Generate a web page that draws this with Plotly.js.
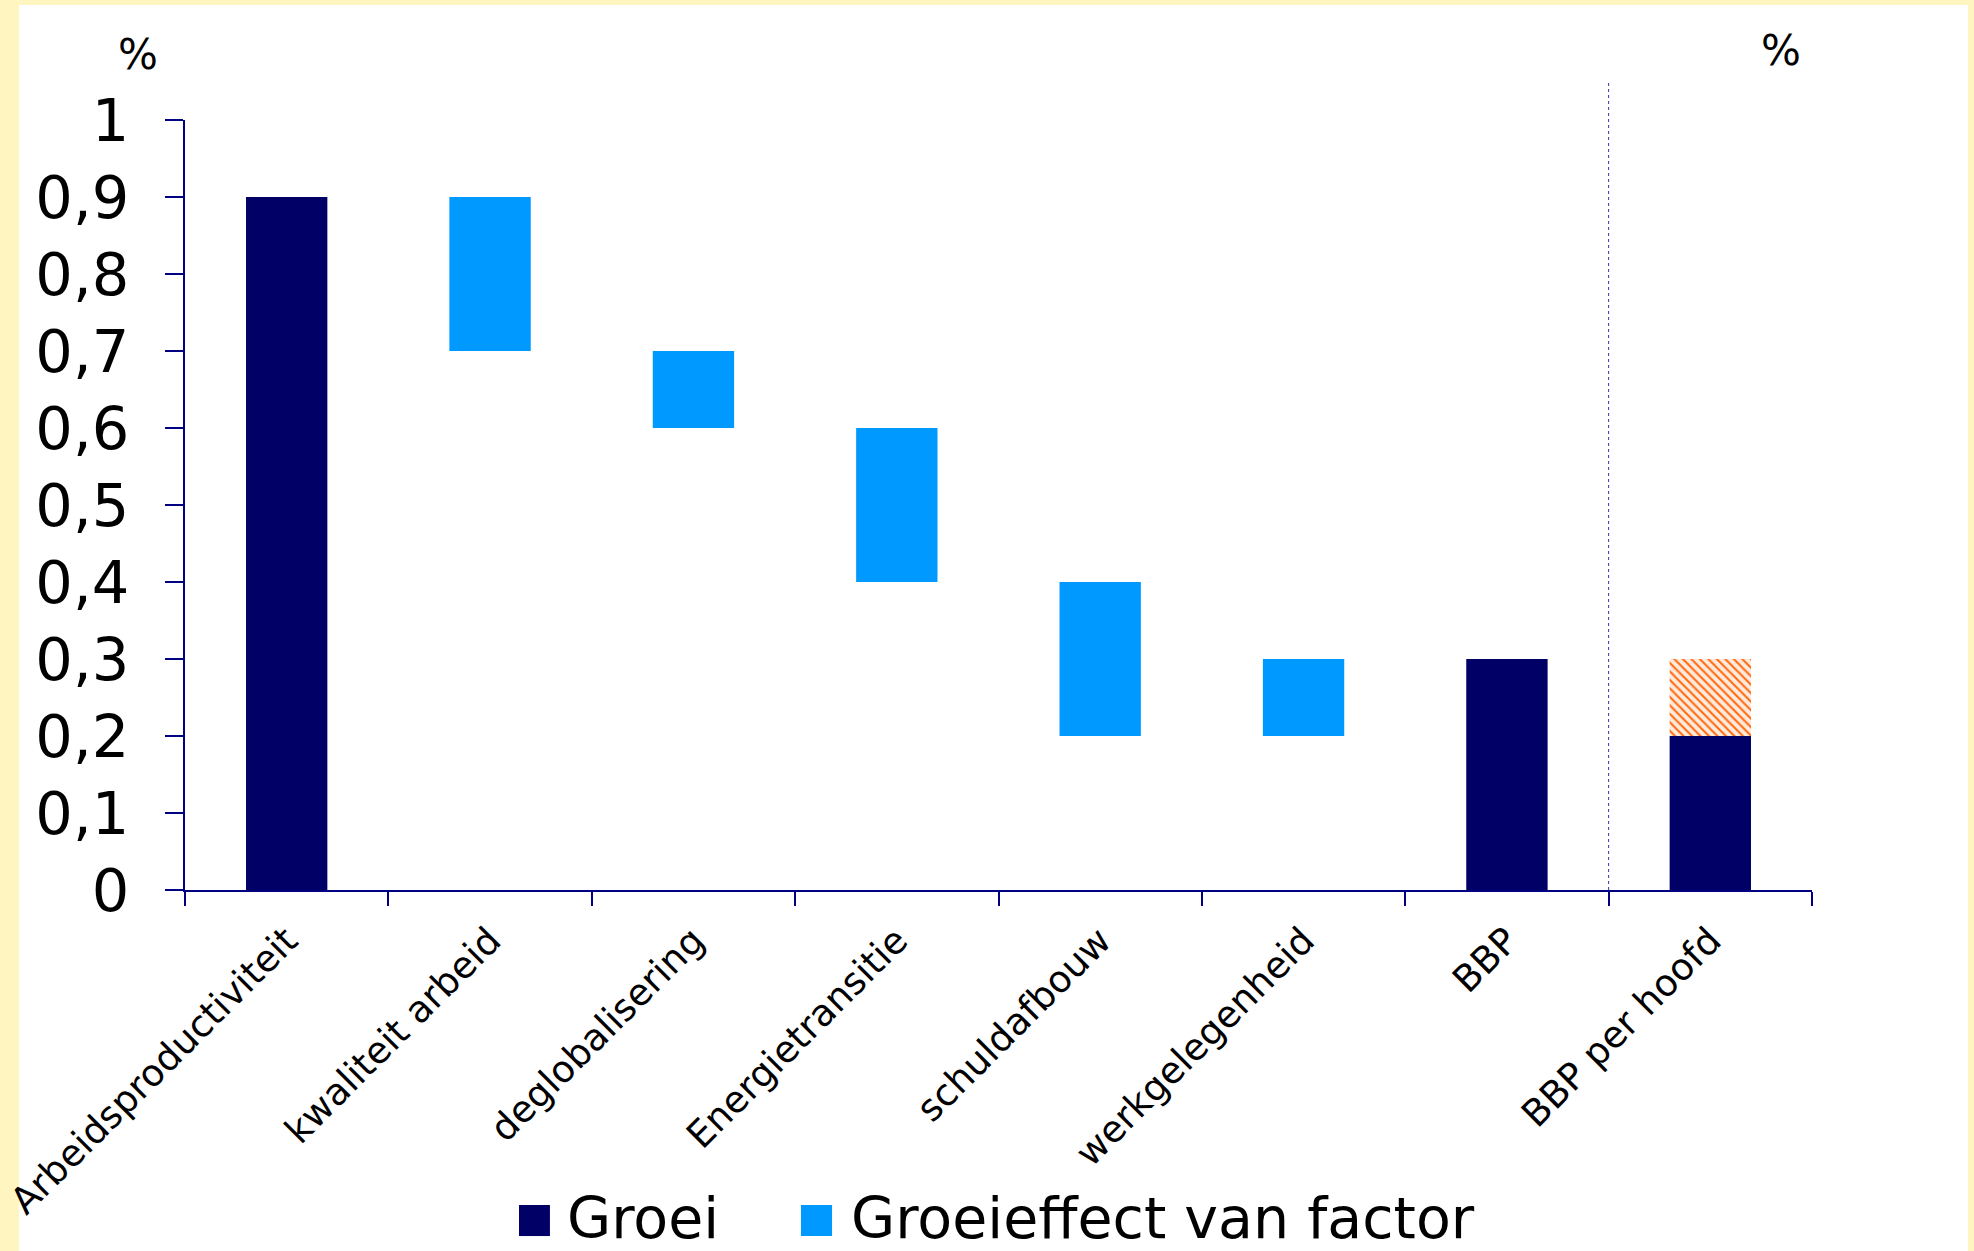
<!DOCTYPE html>
<html>
<head>
<meta charset="utf-8">
<script src="https://cdn.plot.ly/plotly-3.0.1.min.js"></script>
<style>
  html, body { margin: 0; padding: 0; background: #FFF5C0; width: 1974px; height: 1251px; overflow: hidden; }
  #chart { position: absolute; left: 0; top: 0; width: 1974px; height: 1251px; }
</style>
</head>
<body>
<div id="chart"></div>
<script>
// ---- data ----
const categories = ["Arbeidsproductiviteit", "kwaliteit arbeid", "deglobalisering", "Energietransitie",
                    "schuldafbouw", "werkgelegenheid", "BBP", "BBP per hoofd"];

const groeiCats   = ["Arbeidsproductiviteit", "BBP", "BBP per hoofd"];
const groeiValues = [0.9, 0.3, 0.2];

const factorCats  = ["kwaliteit arbeid", "deglobalisering", "Energietransitie", "schuldafbouw", "werkgelegenheid"];
const factorBase  = [0.7, 0.6, 0.4, 0.2, 0.2];
const factorSize  = [0.2, 0.1, 0.2, 0.2, 0.1];

const extraCats   = ["BBP per hoofd"];
const extraBase   = [0.2];
const extraSize   = [0.1];

const leftTicks  = [0, 0.1, 0.2, 0.3, 0.4, 0.5, 0.6, 0.7, 0.8, 0.9, 1];
const rightTicks = [0, 0.2, 0.4, 0.6, 0.8, 1, 1.2, 1.4];

const legendNames = ["Groei", "Groeieffect van factor"];

// ---- styles ----
const NAVY = "#000066";
const BLUE = "#0099FF";
const FONT = "DejaVu Sans, Verdana, sans-serif";
const BW = 0.4;

const traces = [
  { type: "bar", name: legendNames[0], x: groeiCats, y: groeiValues,
    width: BW, marker: { color: NAVY }, showlegend: false },
  { type: "bar", name: legendNames[1], x: factorCats, y: factorSize, base: factorBase,
    width: BW, marker: { color: BLUE }, showlegend: false },
  { type: "bar", name: "extra", x: extraCats, y: extraSize, base: extraBase,
    width: BW, showlegend: false,
    marker: { color: "#FFFFFF", line: { width: 0 },
              pattern: { shape: "\\", fgcolor: "#FF6A10", bgcolor: "#FFEBDD", size: 6, solidity: 0.35 } } }
];

const tickFont = { family: FONT, size: 59, color: "#000000" };

const layout = {
  width: 1974, height: 1251,
  paper_bgcolor: "#FFF5C0", plot_bgcolor: "#FFFFFF",
  margin: { l: 185, r: 162, t: 120, b: 361, autoexpand: false },
  separators: ",.",
  barmode: "overlay",
  font: { family: FONT, color: "#000000" },
  showlegend: false,
  xaxis: {
    type: "category", categoryorder: "array", categoryarray: categories,
    range: [-0.5, 7.5], showgrid: false, zeroline: false, automargin: false,
    showline: true, linecolor: "#000080", linewidth: 2,
    ticks: "outside", tickson: "boundaries", ticklen: 14, tickwidth: 2, tickcolor: "#000080",
    tickangle: -45, tickfont: { family: FONT, size: 37, color: "#000000" }, ticklabelstandoff: 12
  },
  yaxis: {
    range: [0, 1], tickvals: leftTicks, showgrid: false, zeroline: false, automargin: false,
    showline: true, linecolor: "#000080", linewidth: 2,
    ticks: "outside", ticklen: 18, tickwidth: 2, tickcolor: "#000080",
    tickfont: tickFont, ticklabelstandoff: 24
  },
  yaxis2: {
    overlaying: "y", side: "right", range: [0, 1.4], tickvals: rightTicks,
    showgrid: false, zeroline: false, automargin: false,
    showline: true, linecolor: "#000000", linewidth: 2,
    ticks: "outside", ticklen: 20, tickwidth: 2, tickcolor: "#000000",
    tickfont: tickFont, ticklabelstandoff: 34
  },
  shapes: [
    // white chart panel
    { type: "rect", xref: "paper", yref: "paper", x0: -0.10203, x1: 1.09588, y0: -0.6, y1: 1.14935,
      fillcolor: "#FFFFFF", line: { width: 0 }, layer: "below" },
    // separator before "BBP per hoofd"
    { type: "line", xref: "x", yref: "paper", x0: 6.5, x1: 6.5, y0: 0, y1: 1.052,
      line: { color: "#3333AA", width: 1, dash: "dot" } },
    // legend keys
    { type: "rect", xref: "paper", yref: "paper", x0: 0.2053, x1: 0.2243, y0: -0.4494, y1: -0.4091,
      fillcolor: NAVY, line: { width: 0 } },
    { type: "rect", xref: "paper", yref: "paper", x0: 0.3786, x1: 0.3977, y0: -0.4494, y1: -0.4091,
      fillcolor: BLUE, line: { width: 0 } }
  ],
  annotations: [
    { text: "%", xref: "paper", yref: "paper", x: -0.0289, y: 1.0857, showarrow: false,
      xanchor: "center", yanchor: "middle", font: { family: FONT, size: 42, color: "#000000" } },
    { text: "%", xref: "paper", yref: "paper", x: 0.981, y: 1.0909, showarrow: false,
      xanchor: "center", yanchor: "middle", font: { family: FONT, size: 42, color: "#000000" } },
    { text: legendNames[0], xref: "paper", yref: "paper", x: 0.2335, y: -0.4255, showarrow: false,
      xanchor: "left", yanchor: "middle", font: { family: FONT, size: 57, color: "#000000" } },
    { text: legendNames[1], xref: "paper", yref: "paper", x: 0.408, y: -0.4255, showarrow: false,
      xanchor: "left", yanchor: "middle", font: { family: FONT, size: 57, color: "#000000" } }
  ]
};

Plotly.newPlot("chart", traces, layout, { displayModeBar: false, staticPlot: true });
</script>
</body>
</html>
